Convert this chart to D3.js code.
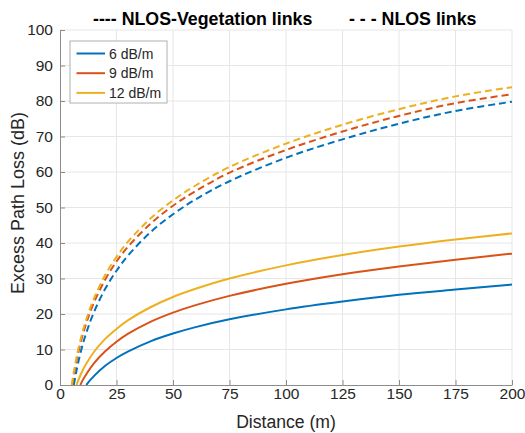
<!DOCTYPE html>
<html>
<head>
<meta charset="utf-8">
<script src="https://d3js.org/d3.v7.min.js"></script>
<style>
  html, body { margin: 0; padding: 0; background: #fff; }
  svg { display: block; font-family: "Liberation Sans", Arial, sans-serif; }
</style>
</head>
<body>
<div id="chart"></div>
<script>
// --- data ---
const distance = [6, 7, 8, 10, 12, 15, 20, 25, 30, 40, 50, 60, 75, 100, 125, 150, 175, 200];
const seriesNames = ["6 dB/m", "9 dB/m", "12 dB/m"];
const colors = ["#0072BD", "#D95319", "#EDB120"];

// distance where each curve crosses 0 dB
const vegStart = [11.7, 9.0, 7.3];
const nlosStart = [6.1, 5.4, 5.2];

// NLOS-Vegetation links (solid), null = below 0 dB
const veg6 = [null, null, null, null, 0.3, 2.5, 5.4, 7.6, 9.4, 12.3, 14.5, 16.3, 18.5, 21.3, 23.5, 25.4, 26.9, 28.3];
const veg9 = [null, null, null, 1.3, 3.4, 6.1, 9.5, 12.2, 14.4, 17.8, 20.4, 22.5, 25.1, 28.5, 31.2, 33.4, 35.3, 37.0];
const veg12 = [null, null, 1.2, 4.1, 6.4, 9.3, 13.0, 15.8, 18.2, 21.9, 24.8, 27.1, 30.0, 33.7, 36.6, 39.0, 41.0, 42.7];

// NLOS links (dashed)
const nlos6 = [null, 3.1, 6.2, 11.3, 15.4, 20.5, 27.1, 32.2, 36.4, 43.0, 48.1, 52.3, 57.4, 64.0, 69.2, 73.6, 77.2, 79.8];
const nlos9 = [2.4, 5.9, 8.9, 14.0, 18.1, 23.2, 29.7, 34.8, 38.9, 45.4, 50.5, 54.6, 59.8, 66.2, 71.4, 75.8, 79.4, 81.9];
const nlos12 = [3.3, 6.8, 9.9, 15.0, 19.2, 24.3, 31.0, 36.1, 40.3, 46.9, 52.0, 56.2, 61.4, 68.0, 73.3, 77.7, 81.3, 83.9];

const xTicks = [0, 25, 50, 75, 100, 125, 150, 175, 200];
const yTicks = [0, 10, 20, 30, 40, 50, 60, 70, 80, 90, 100];

(function() {
  const width = 525, height = 433;
  const margin = { top: 30, right: 13, bottom: 48, left: 60 };
  const iw = width - margin.left - margin.right;
  const ih = height - margin.top - margin.bottom;

  const svg = d3.select("#chart").append("svg")
    .attr("width", width).attr("height", height);

  const x = d3.scaleLinear().domain([0, 200]).range([0, iw]);
  const y = d3.scaleLinear().domain([0, 100]).range([ih, 0]);

  const g = svg.append("g").attr("transform", `translate(${margin.left},${margin.top})`);

  g.append("clipPath").attr("id", "plot-clip")
    .append("rect").attr("width", iw).attr("height", ih);

  // grid
  g.append("g").selectAll("line").data(xTicks.slice(1)).join("line")
    .attr("x1", d => x(d)).attr("x2", d => x(d)).attr("y1", 0).attr("y2", ih)
    .attr("stroke", "#e6e6e6").attr("stroke-width", 1);
  g.append("g").selectAll("line").data(yTicks.slice(1)).join("line")
    .attr("x1", 0).attr("x2", iw).attr("y1", d => y(d)).attr("y2", d => y(d))
    .attr("stroke", "#e6e6e6").attr("stroke-width", 1);

  // axes (MATLAB style, ticks inward)
  const xAxis = g.append("g").attr("transform", `translate(0,${ih})`)
    .call(d3.axisBottom(x).tickValues(xTicks).tickSizeInner(-5).tickSizeOuter(0).tickPadding(3));
  const yAxis = g.append("g")
    .call(d3.axisLeft(y).tickValues(yTicks).tickSizeInner(-5).tickSizeOuter(0).tickPadding(7));
  [xAxis, yAxis].forEach(a => {
    a.select(".domain").attr("stroke", "#8c8c8c");
    a.selectAll(".tick line").attr("stroke", "#8c8c8c");
    a.selectAll(".tick text").attr("fill", "#262626")
      .style("font-size", "15.5px").style("font-family", "'Liberation Sans', Arial, sans-serif");
  });

  // curves
  const line = d3.line()
    .x(d => x(d[0])).y(d => y(d[1]))
    .curve(d3.curveCatmullRom.alpha(0.5));

  function pts(start, vals) {
    const p = [[start, 0]];
    distance.forEach((d, i) => { if (vals[i] != null && d > start) p.push([d, vals[i]]); });
    return p;
  }

  const plot = g.append("g").attr("clip-path", "url(#plot-clip)");
  const nlos = [nlos6, nlos9, nlos12];
  const veg = [veg6, veg9, veg12];

  nlos.forEach((vals, i) => {
    plot.append("path").datum(pts(nlosStart[i], vals))
      .attr("d", line).attr("fill", "none")
      .attr("stroke", colors[i]).attr("stroke-width", 2)
      .attr("stroke-dasharray", "7,4");
  });
  veg.forEach((vals, i) => {
    plot.append("path").datum(pts(vegStart[i], vals))
      .attr("d", line).attr("fill", "none")
      .attr("stroke", colors[i]).attr("stroke-width", 2);
  });

  // legend
  const lg = svg.append("g").attr("transform", "translate(70,41)");
  lg.append("rect").attr("width", 97).attr("height", 62)
    .attr("fill", "#fff").attr("stroke", "#b0b0b0").attr("stroke-width", 1);
  seriesNames.forEach((name, i) => {
    const yy = 12.5 + i * 19.7;
    lg.append("line").attr("x1", 6.5).attr("x2", 35).attr("y1", yy).attr("y2", yy)
      .attr("stroke", colors[i]).attr("stroke-width", 2);
    lg.append("text").attr("x", 39).attr("y", yy + 5)
      .attr("fill", "#262626").style("font-size", "14px").text(name);
  });

  // titles
  svg.append("text").attr("x", 93).attr("y", 25)
    .attr("font-weight", "bold").style("font-size", "17.8px").attr("fill", "#000")
    .text("---- NLOS-Vegetation links");
  svg.append("text").attr("x", 349).attr("y", 25)
    .attr("font-weight", "bold").style("font-size", "17.8px").attr("fill", "#000")
    .text("- - - NLOS links");

  // axis labels
  svg.append("text").attr("x", margin.left + iw / 2).attr("y", 428)
    .attr("text-anchor", "middle").attr("fill", "#262626").style("font-size", "17.6px")
    .text("Distance (m)");
  svg.append("text")
    .attr("transform", "translate(23.5,203) rotate(-90)")
    .attr("text-anchor", "middle").attr("fill", "#262626").style("font-size", "18px")
    .text("Excess Path Loss (dB)");
})();
</script>
</body>
</html>
